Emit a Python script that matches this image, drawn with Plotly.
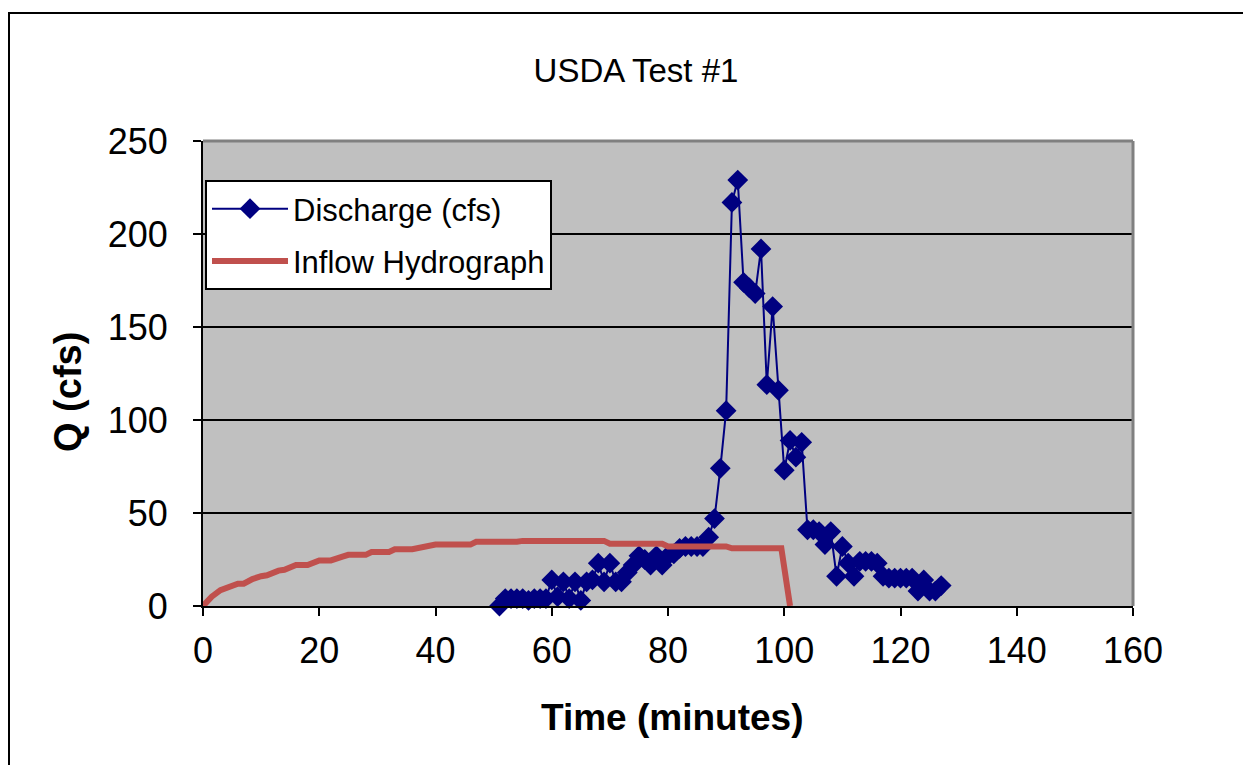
import plotly.graph_objects as go

# Discharge (cfs) measured at one-minute intervals
t_discharge = list(range(51, 128))
q_discharge = [0, 4, 4, 4, 4, 3, 4, 4, 4, 14,
               5, 13, 4, 13, 3, 13, 14, 23, 13, 23,
               13, 13, 18, 22, 27, 25, 22, 27, 22, 27,
               28, 31, 32, 32, 32, 32, 37, 47, 74, 105,
               217, 229, 174, 171, 168, 192, 119, 161, 116, 73,
               89, 80, 88, 41, 41, 40, 33, 40, 16, 32,
               23, 16, 24, 24, 24, 23, 16, 15, 15, 15,
               15, 15, 8, 14, 8, 8, 11]

# Inflow hydrograph (stepped)
t_inflow = [0, 1.5, 3, 5, 6, 7, 8.5, 10, 11, 13, 14, 16, 18, 20, 22, 24, 25, 28, 29,
            32, 33, 36, 38, 40, 46, 47, 54, 55, 69, 70, 79, 80, 90, 91, 99.5, 101]
q_inflow = [0, 5, 8.5, 11, 12, 12, 14.5, 16, 16.5, 19, 19.5, 22, 22, 24.5, 24.5, 26.5, 27.5, 27.5, 29,
            29, 30.5, 30.5, 31.5, 33, 33, 34.5, 34.5, 35, 35, 33.5, 33.5, 32, 32, 31, 31, 0]

x_ticks = [0, 20, 40, 60, 80, 100, 120, 140, 160]
y_ticks = [0, 50, 100, 150, 200, 250]

FONT = "Liberation Sans, Arial, sans-serif"

fig = go.Figure()
fig.add_trace(go.Scatter(
    x=t_discharge, y=q_discharge, mode="lines+markers", name="Discharge (cfs)",
    legendgroup="a",
    line=dict(color="#000080", width=2),
    marker=dict(symbol="diamond", size=16, color="#000080"),
    cliponaxis=False,
))
fig.add_trace(go.Scatter(
    x=t_inflow, y=q_inflow, mode="lines", name="Inflow Hydrograph",
    legendgroup="b",
    line=dict(color="#C0504D", width=6),
    cliponaxis=False,
))

# plot-area pixel geometry
L, R, T, B = 203, 1133, 141, 606
W, H = R - L, B - T

def px(xp):
    return (xp - L) / W

def py(yp):
    return (B - yp) / H

fig.update_layout(
    width=1243, height=765,
    margin=dict(l=L, r=1243 - R, t=T, b=765 - B, pad=0),
    paper_bgcolor="white",
    plot_bgcolor="#C0C0C0",
    font=dict(family=FONT, color="black"),
    title=dict(text="USDA Test #1", x=636 / 1243, xanchor="center",
               y=1 - 70 / 765, yanchor="middle", yref="container",
               font=dict(size=33, family=FONT, color="black")),
    showlegend=True,
    legend=dict(x=px(205), y=py(180), xanchor="left", yanchor="top",
                bgcolor="white", bordercolor="black", borderwidth=2,
                font=dict(size=31, family=FONT, color="black"),
                itemwidth=76, tracegroupgap=9),
    xaxis=dict(range=[0, 160], tickvals=x_ticks, ticks="outside", ticklen=8, tickwidth=2,
               tickcolor="black", showline=True, linecolor="black", linewidth=2,
               showgrid=False, zeroline=False, tickfont=dict(size=36, family=FONT),
               ticklabelstandoff=4),
    yaxis=dict(range=[0, 250], tickvals=y_ticks, ticks="outside", ticklen=8, tickwidth=2,
               tickcolor="black", showline=True, linecolor="black", linewidth=2,
               showgrid=True, gridcolor="black", gridwidth=2, zeroline=False,
               tickfont=dict(size=36, family=FONT), ticklabelstandoff=18),
    annotations=[
        dict(text="<b>Time (minutes)</b>", xref="paper", yref="paper",
             x=px(672), y=py(717), xanchor="center", yanchor="middle", showarrow=False,
             font=dict(size=37, family=FONT, color="black")),
        dict(text="<b>Q (cfs)</b>", xref="paper", yref="paper", textangle=-90,
             x=px(68), y=py(392), xanchor="center", yanchor="middle", showarrow=False,
             font=dict(size=38, family=FONT, color="black")),
    ],
    shapes=[
        # outer chart border
        dict(type="rect", xref="paper", yref="paper", x0=px(9), x1=px(1300),
             y0=py(800), y1=py(13), line=dict(color="black", width=2), layer="below"),
        # plot area border (top and right)
        dict(type="line", xref="paper", yref="paper", x0=0, x1=1, y0=1, y1=1,
             line=dict(color="#808080", width=3), layer="above"),
        dict(type="line", xref="paper", yref="paper", x0=1, x1=1, y0=0, y1=1,
             line=dict(color="#808080", width=3), layer="above"),
    ],
)

fig.write_html("out.html")
